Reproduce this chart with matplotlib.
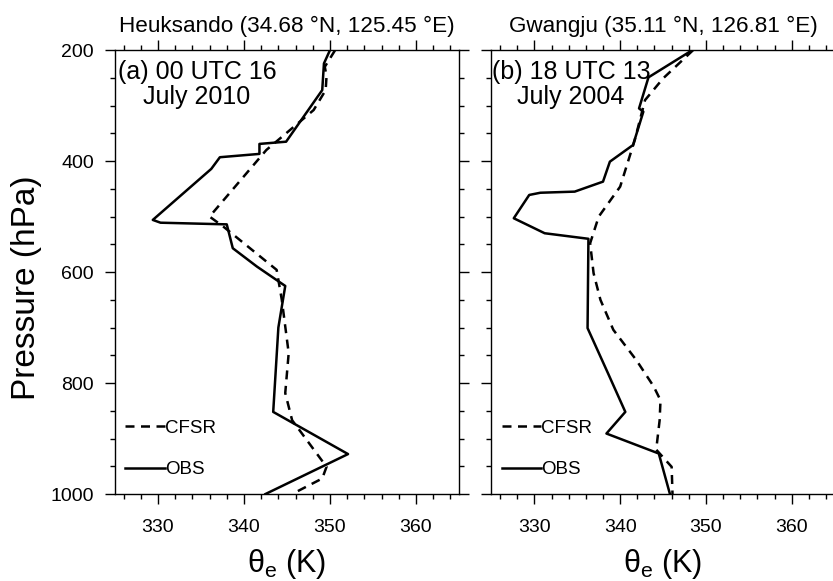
import numpy as np
import matplotlib.pyplot as plt
from matplotlib.ticker import MultipleLocator

plt.rcParams['font.family'] = ['Liberation Sans', 'DejaVu Sans']

# (a) Heuksando, 00 UTC 16 July 2010
heuk_obs_p = [200, 224, 272, 365, 369, 387, 393, 414, 506, 511, 514, 557, 590, 625, 700, 852, 928, 1000]
heuk_obs_te = [350.0, 349.3, 349.1, 344.9, 341.8, 341.8, 337.2, 336.2, 329.4, 330.3, 338.0, 338.7, 341.5, 344.8, 344.0, 343.4, 352.1, 342.5]
heuk_cfsr_p = [200, 230, 247, 272, 308, 380, 500, 518, 596, 650, 746, 818, 867, 951, 972, 1000]
heuk_cfsr_te = [350.6, 349.4, 349.6, 349.5, 348.1, 342.6, 336.0, 337.6, 343.8, 344.4, 345.2, 344.8, 345.6, 349.6, 349.1, 345.6]

# (b) Gwangju, 18 UTC 13 July 2004
gwang_obs_p = [201, 249, 305, 311, 371, 401, 437, 455, 457, 461, 503, 530, 540, 701, 783, 852, 891, 927, 1000]
gwang_obs_te = [348.3, 343.3, 342.2, 342.7, 341.5, 338.8, 338.0, 334.7, 330.7, 329.4, 327.6, 331.2, 336.3, 336.2, 338.6, 340.6, 338.4, 344.5, 345.8]
gwang_cfsr_p = [200, 251, 290, 362, 446, 500, 548, 602, 650, 704, 759, 806, 831, 867, 920, 951, 1000]
gwang_cfsr_te = [348.5, 345.0, 342.9, 341.7, 340.0, 337.5, 336.5, 336.9, 337.7, 339.2, 341.9, 343.9, 344.7, 344.6, 344.2, 346.0, 346.1]

titles = ['Heuksando (34.68 \u00b0N, 125.45 \u00b0E)', 'Gwangju (35.11 \u00b0N, 126.81 \u00b0E)']
panel_labels = ['(a) 00 UTC 16\nJuly 2010', '(b) 18 UTC 13\nJuly 2004']
x_ticks = [330, 340, 350, 360]
y_ticks = [200, 400, 600, 800, 1000]


def draw_panel(ax, obs_te, obs_p, cfsr_te, cfsr_p, title, label, label_x, show_y):
    # CFSR dashed, OBS solid
    ax.plot(cfsr_te, cfsr_p, color='black', lw=1.8, ls=(0, (3.6, 2.6)), label='CFSR')
    ax.plot(obs_te, obs_p, color='black', lw=1.8, ls='-', label='OBS')
    ax.set_xlim(325, 365)
    ax.set_ylim(1000, 200)
    ax.set_xticks(x_ticks)
    ax.set_yticks(y_ticks)
    ax.xaxis.set_minor_locator(MultipleLocator(2))
    ax.yaxis.set_minor_locator(MultipleLocator(50))
    ax.tick_params(which='both', direction='out', top=True, right=True, width=1.0, labelsize=14)
    ax.tick_params(which='major', length=7)
    ax.tick_params(which='minor', length=3.5)
    ax.tick_params(axis='x', pad=11)
    ax.tick_params(axis='y', pad=8)
    if not show_y:
        ax.tick_params(axis='y', labelleft=False)
    for sp in ax.spines.values():
        sp.set_linewidth(1.0)
    ax.set_title(title, fontsize=16.2, pad=13)
    ax.set_xlabel(r'$\mathregular{\theta_e}$ (K)', fontsize=22, labelpad=8)
    ax.text(label_x, 0.978, label, transform=ax.transAxes, ha='center', va='top',
            multialignment='center', fontsize=18, linespacing=1.05)
    ax.legend(loc='lower left', bbox_to_anchor=(0.03, 0.035), frameon=False,
              fontsize=13.5, handlelength=2.1, handletextpad=0.0,
              labelspacing=1.3, borderpad=0, borderaxespad=0)


fig = plt.figure(figsize=(8.33, 5.81), dpi=100)
ax1 = fig.add_axes([0.138, 0.1497, 0.413, 0.764])
ax2 = fig.add_axes([0.590, 0.1497, 0.412, 0.764])

draw_panel(ax1, heuk_obs_te, heuk_obs_p, heuk_cfsr_te, heuk_cfsr_p, titles[0], panel_labels[0], 0.238, True)
draw_panel(ax2, gwang_obs_te, gwang_obs_p, gwang_cfsr_te, gwang_cfsr_p, titles[1], panel_labels[1], 0.232, False)
ax1.set_ylabel('Pressure (hPa)', fontsize=24)
ax1.yaxis.set_label_coords(-0.212, 0.464)

fig.savefig('out.png', dpi=100)
